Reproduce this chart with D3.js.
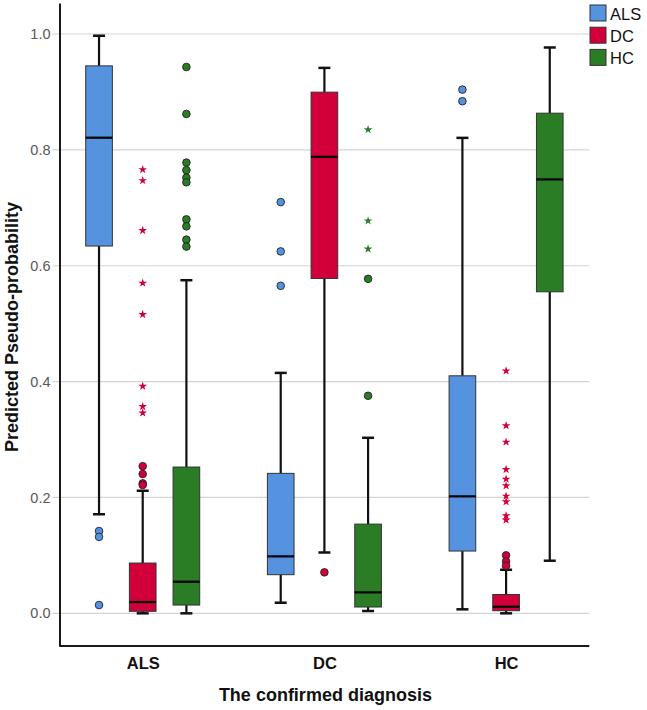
<!DOCTYPE html>
<html>
<head>
<meta charset="utf-8">
<script src="https://cdn.jsdelivr.net/npm/d3@7"></script>
<style>
  html, body { margin: 0; padding: 0; background: #fff; }
  svg { display: block; font-family: "Liberation Sans", Arial, sans-serif; }
</style>
</head>
<body>
<svg id="chart" width="647" height="710"></svg>
<script>
// ---- data ----
const categories = ["ALS", "DC", "HC"];          // confirmed diagnosis (x groups)
const series = ["ALS", "DC", "HC"];              // predicted class (legend)
const seriesColors = ["#5592e0", "#d2003a", "#2a7d24"];
const yTicks = [0.0, 0.2, 0.4, 0.6, 0.8, 1.0];

// box stats per x group: [lower whisker, Q1, median, Q3, upper whisker]
const alsStats = [[0.171, 0.634, 0.821, 0.945, 0.997],
                  [0.0183, 0.0667, 0.0983, 0.2416, 0.415],
                  [0.0069, 0.1075, 0.2019, 0.410, 0.8207]];
const dcStats  = [[0.0, 0.0035, 0.0195, 0.0868, 0.2116],
                  [0.105, 0.578, 0.788, 0.8996, 0.9415],
                  [0.0, 0.0045, 0.0114, 0.0325, 0.0752]];
const hcStats  = [[0.0, 0.0143, 0.0546, 0.2525, 0.575],
                  [0.004, 0.0109, 0.0362, 0.154, 0.303],
                  [0.0908, 0.555, 0.749, 0.8633, 0.9767]];

// mild outliers (circles) per x group
const alsCircles = [[0.142, 0.132, 0.0143], [0.7098, 0.6247, 0.5653], [0.904, 0.884]];
const dcCircles  = [[0.254, 0.2404, 0.2243, 0.2215], [0.0707], [0.1001, 0.0897, 0.0821]];
const hcCircles  = [[0.943, 0.862, 0.778, 0.765, 0.752, 0.744, 0.680, 0.668, 0.645, 0.633],
                    [0.5774, 0.3755], []];

// extreme outliers (stars) per x group
const alsStars = [[], [], []];
const dcStars  = [[0.766, 0.747, 0.661, 0.570, 0.516, 0.392, 0.357, 0.346], [],
                  [0.4185, 0.324, 0.2956, 0.2484, 0.2317, 0.2202, 0.2024, 0.1926, 0.1684, 0.161]];
const hcStars  = [[], [0.835, 0.6775, 0.629], []];

const statsBySeries = [alsStats, dcStats, hcStats];
const circlesBySeries = [alsCircles, dcCircles, hcCircles];
const starsBySeries = [alsStars, dcStars, hcStars];

// ---- layout ----
const svg = d3.select("#chart");
const mLeft = 59.5, mRight = 589.3, mTop = 3, mBottom = 646;

const x = d3.scalePoint().domain(categories).range([mLeft, mRight]).padding(0.458);
const xs = d3.scaleBand().domain(series).range([-57, 57]).paddingInner(0.39).paddingOuter(0);
const y = d3.scaleLinear().domain([-0.0564, 1.0535]).range([mBottom, mTop]);
const color = d3.scaleOrdinal().domain(series).range(seriesColors);

// gridlines
svg.append("g").selectAll("line").data(yTicks).join("line")
  .attr("x1", mLeft - 7).attr("x2", mRight)
  .attr("y1", d => y(d)).attr("y2", d => y(d))
  .attr("stroke", "#d4d4d4").attr("stroke-width", 1.2);

// y axis
const yAxis = d3.axisLeft(y).tickValues(yTicks).tickFormat(d3.format(".1f")).tickSize(0).tickPadding(9);
const gy = svg.append("g").attr("transform", `translate(${mLeft},0)`).call(yAxis);
gy.select(".domain").attr("stroke", "#1a1a1a").attr("stroke-width", 2);
gy.selectAll("text").attr("fill", "#595959").style("font-size", "14.5px")
  .style("font-family", "'Liberation Sans', Arial, sans-serif");

// x axis
const xAxis = d3.axisBottom(x).tickSize(0).tickPadding(11);
const gx = svg.append("g").attr("transform", `translate(0,${mBottom})`).call(xAxis);
gx.select(".domain").attr("stroke", "#1a1a1a").attr("stroke-width", 2).attr("d", `M${mLeft},0H${mRight}`);
gx.selectAll("text").attr("fill", "#111").style("font-size", "16.5px").style("font-weight", "bold")
  .style("font-family", "'Liberation Sans', Arial, sans-serif");

// boxes
const boxes = [];
categories.forEach((c, gi) => {
  series.forEach((s, si) => {
    const st = statsBySeries[si][gi];
    boxes.push({cat: c, ser: s, lo: st[0], q1: st[1], med: st[2], q3: st[3], hi: st[4],
                circles: circlesBySeries[si][gi], stars: starsBySeries[si][gi]});
  });
});

const bw = xs.bandwidth();
const capW = 12;
const gBoxes = svg.append("g");
boxes.forEach(b => {
  const cx = x(b.cat) + xs(b.ser) + bw / 2;
  const g = gBoxes.append("g");
  // whiskers
  g.append("line").attr("x1", cx).attr("x2", cx).attr("y1", y(b.q3)).attr("y2", y(b.hi))
    .attr("stroke", "#111").attr("stroke-width", 2.2);
  g.append("line").attr("x1", cx).attr("x2", cx).attr("y1", y(b.q1)).attr("y2", y(b.lo))
    .attr("stroke", "#111").attr("stroke-width", 2.2);
  g.append("line").attr("x1", cx - capW / 2).attr("x2", cx + capW / 2).attr("y1", y(b.hi)).attr("y2", y(b.hi))
    .attr("stroke", "#111").attr("stroke-width", 2.5);
  g.append("line").attr("x1", cx - capW / 2).attr("x2", cx + capW / 2).attr("y1", y(b.lo)).attr("y2", y(b.lo))
    .attr("stroke", "#111").attr("stroke-width", 2.5);
  // box
  g.append("rect").attr("x", cx - bw / 2).attr("width", bw)
    .attr("y", y(b.q3)).attr("height", Math.max(1, y(b.q1) - y(b.q3)))
    .attr("fill", color(b.ser)).attr("stroke", "#333").attr("stroke-width", 1);
  // median
  g.append("line").attr("x1", cx - bw / 2).attr("x2", cx + bw / 2).attr("y1", y(b.med)).attr("y2", y(b.med))
    .attr("stroke", "#000").attr("stroke-width", 2.2);
  // circles
  g.selectAll("circle").data(b.circles).join("circle")
    .attr("cx", cx).attr("cy", d => y(d)).attr("r", 3.8)
    .attr("fill", color(b.ser)).attr("stroke", "#222").attr("stroke-width", 0.9);
  // stars
  g.selectAll("path.star").data(b.stars).join("path").attr("class", "star")
    .attr("d", d3.symbol().type(d3.symbolStar).size(24))
    .attr("transform", d => `translate(${cx},${y(d)})`)
    .attr("fill", color(b.ser));
});

// axis titles
svg.append("text").attr("x", (mLeft + mRight) / 2 + 1).attr("y", 701)
  .attr("text-anchor", "middle").style("font-size", "18px").style("font-weight", "bold").attr("fill", "#111")
  .text("The confirmed diagnosis");
svg.append("text").attr("transform", `translate(17.5,${327}) rotate(-90)`)
  .attr("text-anchor", "middle").style("font-size", "18px").style("font-weight", "bold").attr("fill", "#111")
  .text("Predicted Pseudo-probability");

// legend
const lg = svg.append("g").attr("transform", "translate(590,5)");
series.forEach((s, i) => {
  const row = lg.append("g").attr("transform", `translate(0,${i * 22.2})`);
  row.append("rect").attr("width", 16).attr("height", 16)
    .attr("fill", color(s)).attr("stroke", "#333").attr("stroke-width", 1);
  row.append("text").attr("x", 20).attr("y", 15).style("font-size", "16.5px").attr("fill", "#111").text(s);
});
</script>
</body>
</html>
